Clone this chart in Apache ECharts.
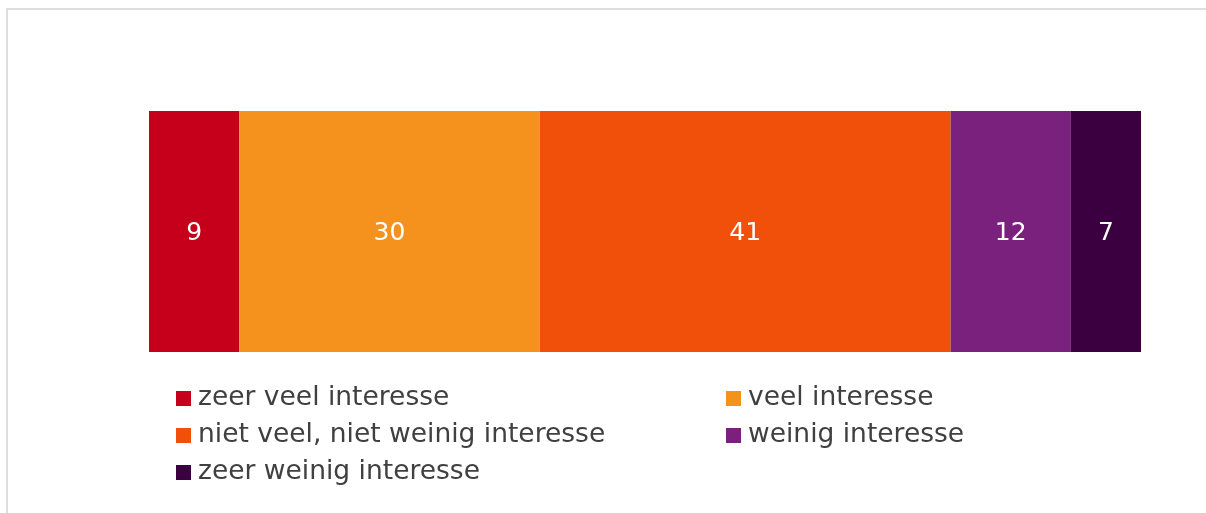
<!DOCTYPE html>
<html><head><meta charset="utf-8">
<script src="https://cdn.jsdelivr.net/npm/echarts@6/dist/echarts.min.js"></script>
<style>
html,body{margin:0;padding:0;background:#fff;}
#frame{position:absolute;left:6px;top:8px;width:1300px;height:600px;border:2px solid #dfdfdf;box-sizing:border-box;}
#chart{position:absolute;left:0;top:0;width:1206px;height:513px;}
</style></head>
<body><div id="frame"></div><div id="chart"></div>
<script>
const categories = ['totaal'];
const seriesNames = ['zeer veel interesse','veel interesse','niet veel, niet weinig interesse','weinig interesse','zeer weinig interesse'];
const seriesValues = [9, 30, 41, 12, 7];
const seriesColors = ['#C6001A','#F5921E','#F0500A','#79217C','#3B003F'];
const legendLeftCol = ['zeer veel interesse','niet veel, niet weinig interesse','zeer weinig interesse'];
const legendRightCol = ['veel interesse','weinig interesse'];

const total = seriesValues.reduce((a,b)=>a+b,0);
const chart = echarts.init(document.getElementById('chart'), null, {renderer:'canvas'});
const font = 'DejaVu Sans';
const legendBase = {
  orient:'vertical', top:385, padding:0, itemWidth:15, itemHeight:15, itemGap:10,
  icon:'rect', selectedMode:false,
  textStyle:{fontFamily:font, fontSize:26.5, color:'#404040', lineHeight:26, padding:[0,0,0,2]}
};
chart.setOption({
  animation:false,
  backgroundColor:'transparent',
  grid:{left:149, right:65, top:111, bottom:161, containLabel:false},
  xAxis:{type:'value', min:0, max:total, show:false},
  yAxis:{type:'category', data:categories, show:false},
  legend:[
    Object.assign({}, legendBase, {left:176, data:legendLeftCol}),
    Object.assign({}, legendBase, {left:726, data:legendRightCol})
  ],
  series: seriesNames.map((n,i)=>({
    name:n, type:'bar', stack:'all', barCategoryGap:'0%', barWidth:'100%',
    data:[seriesValues[i]],
    itemStyle:{color:seriesColors[i]},
    label:{show:true, position:'inside', color:'#fff', fontFamily:font, fontSize:25, offset:[0,2]}
  }))
});
</script></body></html>
